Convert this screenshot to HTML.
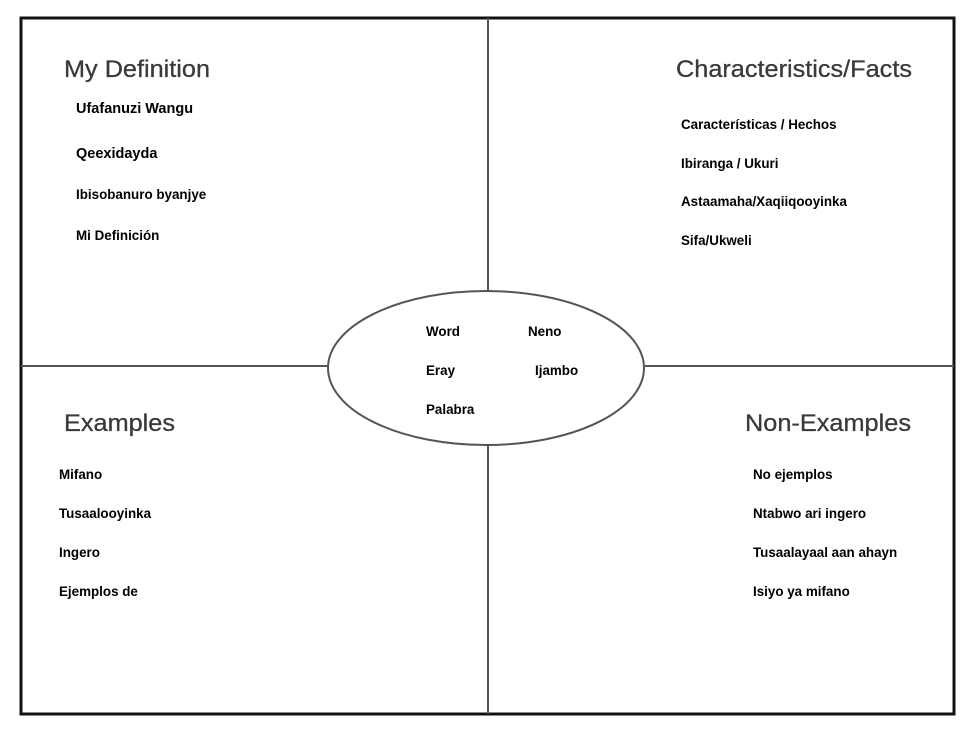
<!DOCTYPE html>
<html><head><meta charset="utf-8"><style>
html,body{margin:0;padding:0;background:#fff;}
svg{display:block;}
.h{font-family:"Liberation Sans",Arial,sans-serif;font-size:24px;fill:#3a3a3a;stroke:#3a3a3a;stroke-width:0.3px;}
.t{font-family:"Liberation Sans",Arial,sans-serif;font-size:13.4px;font-weight:bold;fill:#000;}
.b{font-size:14.5px;}
</style></head><body>
<svg width="977" height="730" viewBox="0 0 977 730" xmlns="http://www.w3.org/2000/svg">
<rect x="0" y="0" width="977" height="730" fill="#fff"/>
<rect x="21" y="18" width="933" height="696" fill="none" stroke="#111" stroke-width="3"/>
<line x1="488" y1="18" x2="488" y2="292" stroke="#555" stroke-width="2"/>
<line x1="488" y1="444" x2="488" y2="714" stroke="#555" stroke-width="2"/>
<line x1="21" y1="366" x2="328" y2="366" stroke="#555" stroke-width="2"/>
<line x1="645" y1="366" x2="954" y2="366" stroke="#555" stroke-width="2"/>
<ellipse cx="486" cy="368" rx="158" ry="77" fill="#fff" stroke="#555" stroke-width="2"/>
<text class="h" x="64" y="77" textLength="146" lengthAdjust="spacingAndGlyphs">My Definition</text>
<text class="h" x="676" y="77" textLength="236" lengthAdjust="spacingAndGlyphs">Characteristics/Facts</text>
<text class="h" x="64" y="431" textLength="111" lengthAdjust="spacingAndGlyphs">Examples</text>
<text class="h" x="745" y="431" textLength="166" lengthAdjust="spacingAndGlyphs">Non-Examples</text>
<text class="t b" x="76" y="113">Ufafanuzi Wangu</text>
<text class="t b" x="76" y="158">Qeexidayda</text>
<text class="t" x="76" y="199">Ibisobanuro byanjye</text>
<text class="t" x="76" y="240">Mi Definición</text>
<text class="t" x="681" y="129">Características / Hechos</text>
<text class="t" x="681" y="168">Ibiranga / Ukuri</text>
<text class="t" x="681" y="206">Astaamaha/Xaqiiqooyinka</text>
<text class="t" x="681" y="245">Sifa/Ukweli</text>
<text class="t" x="426" y="336">Word</text>
<text class="t" x="528" y="336">Neno</text>
<text class="t" x="426" y="375">Eray</text>
<text class="t" x="535" y="375">Ijambo</text>
<text class="t" x="426" y="414">Palabra</text>
<text class="t" x="59" y="479">Mifano</text>
<text class="t" x="59" y="518">Tusaalooyinka</text>
<text class="t" x="59" y="557">Ingero</text>
<text class="t" x="59" y="596">Ejemplos de</text>
<text class="t" x="753" y="479">No ejemplos</text>
<text class="t" x="753" y="518">Ntabwo ari ingero</text>
<text class="t" x="753" y="557">Tusaalayaal aan ahayn</text>
<text class="t" x="753" y="596">Isiyo ya mifano</text>
</svg>
</body></html>
